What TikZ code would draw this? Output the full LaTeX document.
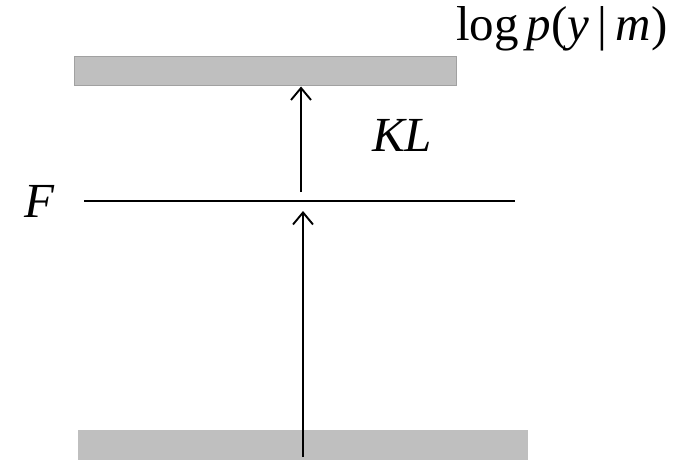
\documentclass[tikz,border=0pt]{standalone}
\usepackage{fontspec}
\setmainfont{Liberation Serif}
\usetikzlibrary{arrows.meta}
\begin{document}
\begin{tikzpicture}[x=1pt,y=-1pt,
  bar/.style={rectangle, fill=black!25, inner sep=0pt, minimum width=#1},
  arr/.style={line width=1.9pt, -{Straight Barb[length=12pt,width=20pt,line width=1.9pt]}},
  lbl/.style={inner sep=0pt, anchor=base west, font=\fontsize{49}{49}\selectfont}]
  \useasboundingbox (0,0) rectangle (675,460);

  % upper and lower bounds
  \node[bar=382, minimum height=29, draw=black!37, line width=1pt] (topbar) at (265,71.5) {};
  \node[bar=450, minimum height=30] (botbar) at (303,445) {};

  % free-energy level
  \coordinate (fL) at (84,201);
  \coordinate (fR) at (515,201);
  \draw[line width=1.9pt] (fL) -- (fR);

  % gaps
  \coordinate (a1s) at (301,192);
  \draw[arr] (a1s) -- (topbar.south -| a1s);
  \coordinate (a2s) at (303,457);
  \coordinate (a2e) at (303,211);
  \draw[arr] (a2s) -- (a2e);

  % labels
  \node[lbl] (logev) at (456,41) {log\,\textit{p}(\textit{y}\,|\,\textit{m})};
  \node[lbl] (kl) at (372,151) {\textit{KL}};
  \node[lbl] (f) at (24,217) {\textit{F}};
\end{tikzpicture}
\end{document}
